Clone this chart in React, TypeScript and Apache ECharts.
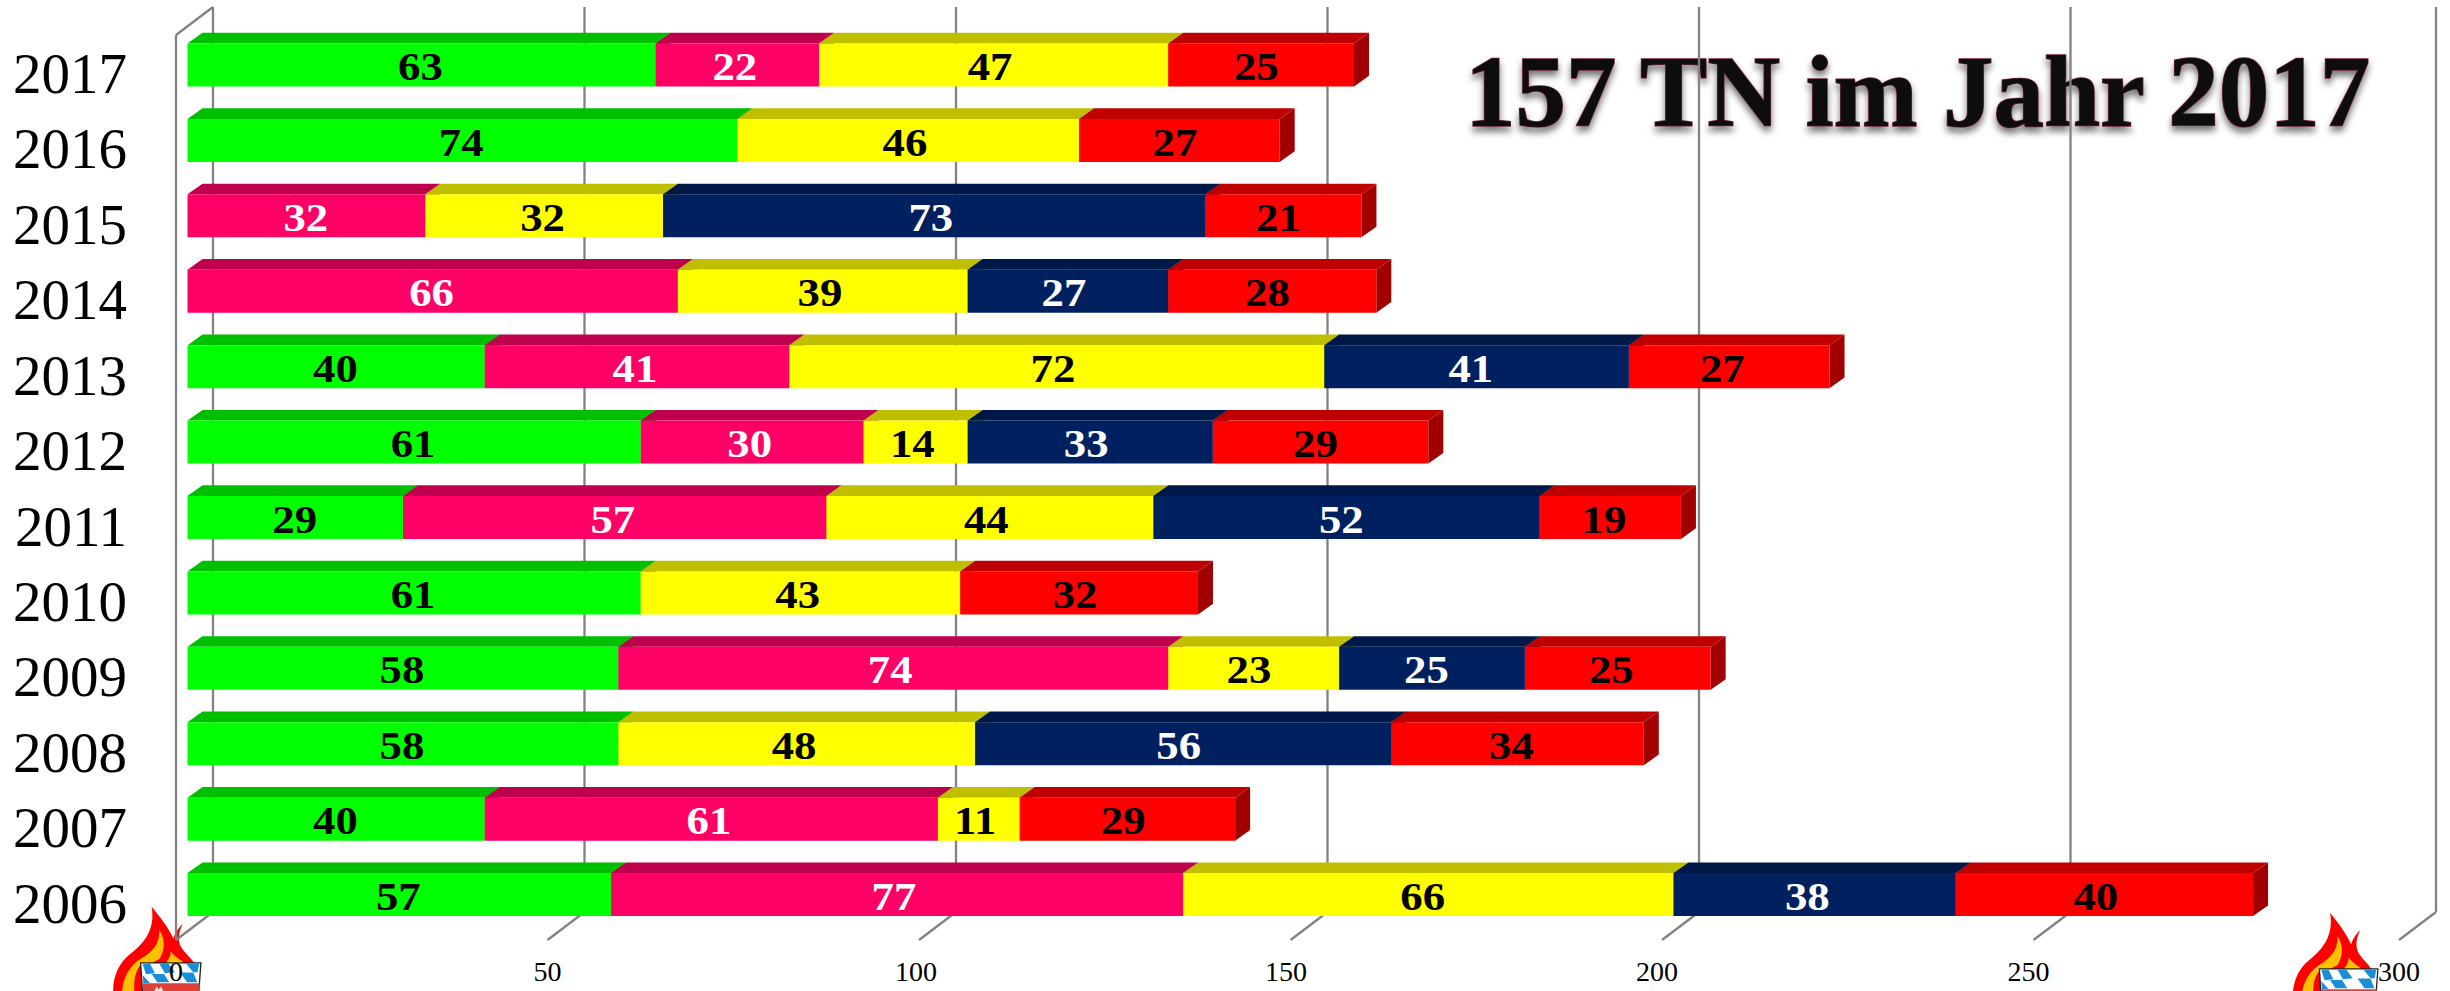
import React, { useEffect, useRef } from "react";
import * as echarts from "echarts";

const years = ["2017", "2016", "2015", "2014", "2013", "2012", "2011", "2010", "2009", "2008", "2007", "2006"];
const green = [63, 74, 0, 0, 40, 61, 29, 61, 58, 58, 40, 57];
const pink = [22, 0, 32, 66, 41, 30, 57, 0, 74, 0, 61, 77];
const yellow = [47, 46, 32, 39, 72, 14, 44, 43, 23, 48, 11, 66];
const navy = [0, 0, 73, 27, 41, 33, 52, 0, 25, 56, 0, 38];
const red = [25, 27, 21, 28, 27, 29, 19, 32, 25, 34, 29, 40];
const xTicks = [0, 50, 100, 150, 200, 250, 300];
const titleText = "157 TN im Jahr 2017";

const segments = [
  { name: "A", values: green, front: "#00FF00", top: "#00BF00", side: "#00A000", label: "#000000" },
  { name: "B", values: pink, front: "#FF0066", top: "#BF004C", side: "#A00040", label: "#FFFFFF" },
  { name: "C", values: yellow, front: "#FFFF00", top: "#BFBF00", side: "#A0A000", label: "#000000" },
  { name: "D", values: navy, front: "#002060", top: "#001848", side: "#001040", label: "#FFFFFF" },
  { name: "E", values: red, front: "#FF0000", top: "#BF0000", side: "#A00000", label: "#000000" },
];

const FONT = '"Liberation Serif", serif';
const BAR_H = 43;
const BAR_SHIFT = 11.5;
const DX = 15;
const DY = 10.7;
const WALL_DX = 37;
const WALL_DY = 28;
const LINE = { stroke: "#828282", lineWidth: 2.3 };
const LABEL_DRIFT = 0.9955;

echarts.graphic.registerShape(
  "flameOuter",
  echarts.graphic.extendPath(
    "M155,35 C175,60 205,95 220,130 C225,115 238,95 248,87 C240,105 232,125 240,150 C250,170 270,185 285,207 L285,300 L40,300 C36,250 55,205 90,178 C125,150 168,110 155,35 Z",
    {}
  )
);
echarts.graphic.registerShape(
  "flameInner",
  echarts.graphic.extendPath(
    "M178,105 C196,130 196,165 178,192 L150,207 L125,207 C105,225 100,260 104,300 L66,300 C66,250 90,210 125,190 C155,172 180,150 178,105 Z M213,168 C220,185 245,195 255,207 L195,207 C205,195 212,185 213,168 Z",
    {}
  )
);
echarts.graphic.registerShape(
  "crestBlue",
  echarts.graphic.extendPath(
    "M128,208 L150,206 L165,235 L138,238 Z M178,206 L205,206 L225,232 L195,235 Z M258,206 L298,206 L293,232 L280,232 Z M240,233 L280,233 L292,262 L262,262 Z M155,237 L192,237 L208,262 L172,262 Z M128,240 L150,264 L130,264 Z",
    {}
  )
);
echarts.graphic.registerShape(
  "crestRed",
  echarts.graphic.extendPath("M128,265 L300,265 L296,300 L130,300 Z", {})
);
echarts.graphic.registerShape(
  "crestPeaks",
  echarts.graphic.extendPath("M158,300 L170,274 L176,284 L184,274 L194,300 Z", {})
);
echarts.graphic.registerShape(
  "crestBody",
  echarts.graphic.extendPath("M122,204 L303,204 L296,300 L128,300 Z", {})
);

function logo(x: number, y: number, sx: number) {
  const base = { z: -1 };
  return {
    type: "group",
    x,
    y,
    scaleX: sx / 3,
    scaleY: 1 / 3,
    silent: true,
    children: [
      { type: "flameOuter", style: { fill: "#FF0000" }, ...base },
      { type: "flameInner", style: { fill: "#FFC000" }, ...base },
      { type: "crestBody", style: { fill: "#FFFFFF", stroke: "#222222", lineWidth: 4 }, ...base },
      { type: "crestBlue", style: { fill: "#1A8FD6" }, ...base },
      { type: "crestRed", style: { fill: "#E0403A" }, ...base },
      { type: "crestPeaks", style: { fill: "#E8E8E8" }, ...base },
    ],
  };
}

function buildData(idx: number) {
  return years.map((_, row) => {
    let start = 0;
    for (let i = 0; i < idx; i++) start += segments[i].values[row];
    const v = segments[idx].values[row];
    return [start, start + v, row, v];
  });
}

function barRender(seg: (typeof segments)[number]) {
  return (_params: any, api: any) => {
    const v = api.value(3);
    if (!v) return { type: "group", children: [] };
    const row = api.value(2);
    const a = api.coord([api.value(0), row]);
    const b = api.coord([api.value(1), row]);
    const origin = api.coord([0, row])[0] + BAR_SHIFT;
    const x0 = a[0] + BAR_SHIFT;
    const x1 = b[0] + BAR_SHIFT;
    const y0 = a[1] - BAR_H / 2;
    const y1 = a[1] + BAR_H / 2;
    const mid = origin + ((x0 + x1) / 2 - origin) * LABEL_DRIFT;
    return {
      type: "group",
      children: [
        {
          type: "polygon",
          shape: { points: [[x1, y0], [x1 + DX, y0 - DY], [x1 + DX, y1 - DY], [x1, y1]] },
          style: { fill: seg.side },
        },
        {
          type: "polygon",
          shape: { points: [[x0, y0], [x1, y0], [x1 + DX, y0 - DY], [x0 + DX, y0 - DY]] },
          style: { fill: seg.top },
        },
        { type: "rect", shape: { x: x0, y: y0, width: x1 - x0, height: BAR_H }, style: { fill: seg.front } },
        {
          type: "text",
          x: mid,
          y: a[1] + 1.5,
          scaleX: 1.12,
          style: {
            text: String(v),
            x: 0,
            y: 0,
            align: "center",
            verticalAlign: "middle",
            fill: seg.label,
            fontFamily: FONT,
            fontWeight: "bold",
            fontSize: 40,
          },
        },
      ],
    };
  };
}

function wallRender(_params: any, api: any) {
  const v = api.value(0);
  const isLast = v === xTicks[xTicks.length - 1];
  const fx = api.coord([v, 0])[0] - (isLast ? 6 : 0);
  const floorY = 940;
  const backY = floorY - WALL_DY;
  const bx = fx + WALL_DX;
  const children: any[] = [
    { type: "line", shape: { x1: bx, y1: 7, x2: bx, y2: backY }, style: LINE },
    { type: "line", shape: { x1: fx, y1: floorY, x2: bx, y2: backY }, style: LINE },
  ];
  if (v === xTicks[0]) {
    children.push({ type: "line", shape: { x1: fx, y1: 35, x2: fx, y2: floorY }, style: LINE });
    children.push({ type: "line", shape: { x1: fx, y1: 35, x2: bx, y2: 7 }, style: LINE });
  }
  return { type: "group", children };
}

export default function App() {
  const ref = useRef<HTMLDivElement>(null);
  useEffect(() => {
    document.body.style.margin = "0";
    document.body.style.overflow = "hidden";
    const chart = echarts.init(ref.current!, null, { renderer: "svg" });
    const tickRich = { fontFamily: FONT, fontSize: 28, color: "#000000" };
    chart.setOption({
      animation: false,
      backgroundColor: "#FFFFFF",
      title: {
        text: titleText,
        left: 1460,
        top: 36,
        z: 0,
        textStyle: {
          fontFamily: FONT,
          fontWeight: "bold",
          fontSize: 101,
          color: "#0A0A0A",
          textBorderColor: "#6B2A38",
          textBorderWidth: 1.5,
          textShadowColor: "rgba(0,0,0,0.55)",
          textShadowBlur: 7,
          textShadowOffsetY: 5,
        },
      },
      grid: { left: 176, top: 27.3, width: 2229, height: 905 },
      xAxis: {
        type: "value",
        min: 0,
        max: 300,
        interval: 50,
        axisLine: { show: false },
        axisTick: { show: false },
        splitLine: { show: false },
        axisLabel: {
          margin: 25,
          fontFamily: FONT,
          fontSize: 28,
          color: "#000000",
          formatter: (v: number) => (v >= 100 ? `{p${v}|${v}}` : String(v)),
          rich: {
            p100: { ...tickRich, padding: [0, 6, 0, 0] },
            p150: { ...tickRich, padding: [0, 9, 0, 0] },
            p200: { ...tickRich, padding: [0, 10, 0, 0] },
            p250: { ...tickRich, padding: [0, 10, 0, 0] },
            p300: { ...tickRich, padding: [0, 12, 0, 0] },
          },
        },
      },
      yAxis: {
        type: "category",
        inverse: true,
        data: years,
        axisLine: { show: false },
        axisTick: { show: false },
        splitLine: { show: false },
        axisLabel: {
          margin: 49,
          formatter: (v: string) => `{y|${v}}`,
          rich: { y: { fontFamily: FONT, fontSize: 57, color: "#000000", padding: [17, 0, 0, 0] } },
        },
      },
      graphic: [logo(100, 895, 1), logo(2280, 901, 0.97)],
      series: [
        {
          type: "custom",
          name: "wall",
          z: 1,
          silent: true,
          clip: false,
          data: xTicks.map((t) => [t]),
          encode: { x: 0 },
          renderItem: wallRender,
        },
        ...segments.map((seg, i) => ({
          type: "custom",
          name: seg.name,
          z: 2 + i,
          silent: true,
          clip: false,
          data: buildData(i),
          encode: { x: [0, 1], y: 2 },
          renderItem: barRender(seg),
        })),
      ],
    });
    return () => chart.dispose();
  }, []);
  return <div ref={ref} style={{ width: 2450, height: 991 }} />;
}
